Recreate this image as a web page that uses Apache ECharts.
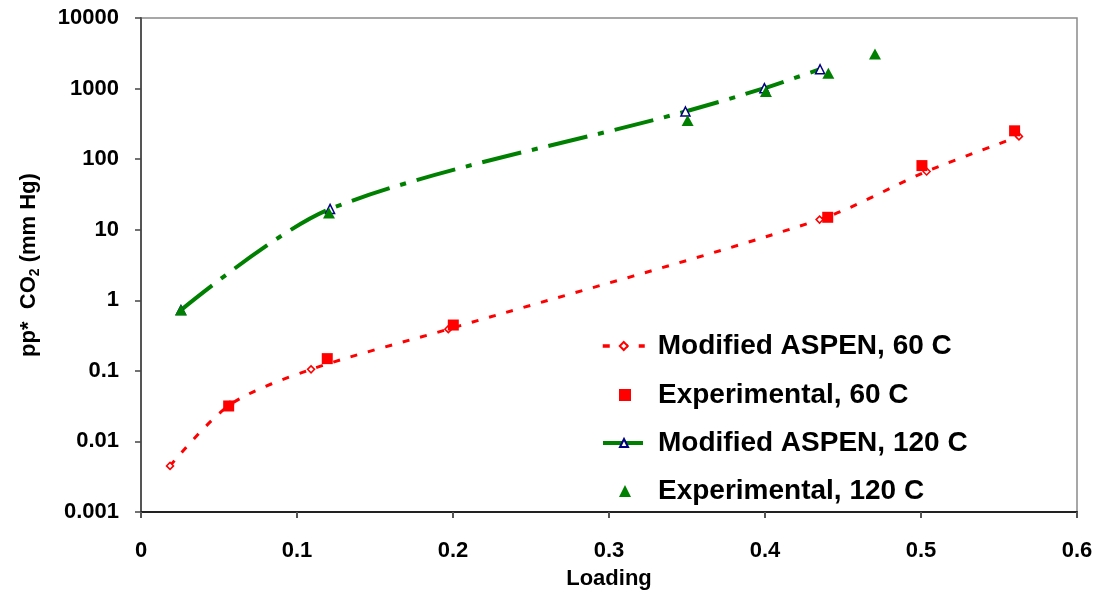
<!DOCTYPE html>
<html>
<head>
<meta charset="utf-8">
<script src="https://cdn.jsdelivr.net/npm/echarts@6/dist/echarts.min.js"></script>
<style>html,body{margin:0;padding:0;background:#fff;}#c{width:1097px;height:595px;}</style>
</head>
<body>
<div id="c"></div>
<script>
// Data
const aspen60X = [0.0186, 0.057, 0.109, 0.197, 0.435, 0.5036, 0.5628];
const aspen60Y = [0.0045, 0.033, 0.105, 0.39, 13.9, 67, 210];
const exp60X = [0.0562, 0.1194, 0.2002, 0.4402, 0.5006, 0.560];
const exp60Y = [0.0318, 0.149, 0.446, 15.0, 81, 252];
const aspen120X = [0.0256, 0.1212, 0.349, 0.3996, 0.4353];
const aspen120Y = [0.726, 19.7, 473, 1014, 1880];
const exp120X = [0.0256, 0.1205, 0.3504, 0.4006, 0.4406, 0.4705];
const exp120Y = [0.726, 17.3, 353, 908, 1652, 3100];
const seriesNames = ['Modified ASPEN, 60 C', 'Experimental, 60 C', 'Modified ASPEN, 120 C', 'Experimental, 120 C'];
const xTickLabels = ['0', '0.1', '0.2', '0.3', '0.4', '0.5', '0.6'];
const yTickLabels = ['0.001', '0.01', '0.1', '1', '10', '100', '1000', '10000'];

const pair = (xs, ys) => xs.map((x, i) => [x, ys[i]]);
const FONT = '"Liberation Sans", Arial, sans-serif';

const legendText = (padLeft) => ({fontFamily: FONT, fontWeight: 'bold', fontSize: 28, color: '#000', lineHeight: 28, padding: [0, 0, 0, padLeft]});
const legendTops = [332, 381, 429, 477];
const legends = seriesNames.map((name, i) => {
  const isLine = (i % 2 === 0);
  const item = {name: name};
  if (isLine) {
    item.lineStyle = {width: i === 0 ? 3.5 : 4};
  }
  return {
    orient: 'vertical', padding: 0,
    left: isLine ? 601 : 619, top: legendTops[i],
    itemWidth: isLine ? 42 : 12, itemHeight: isLine ? 10 : 12,
    textStyle: legendText(isLine ? 8 : 22),
    selectedMode: false,
    data: [item]
  };
});

const chart = echarts.init(document.getElementById('c'), null, {renderer: 'canvas'});
chart.setOption({
  animation: false,
  backgroundColor: '#ffffff',
  grid: {left: 141, right: 20, top: 18, bottom: 82, show: true, borderColor: '#8a8a8a', borderWidth: 1.5, backgroundColor: 'transparent'},
  xAxis: {
    type: 'value', min: 0, max: 0.6, interval: 0.1,
    name: 'Loading', nameLocation: 'middle', nameGap: 56,
    nameTextStyle: {fontFamily: FONT, fontWeight: 'bold', fontSize: 22, color: '#000'},
    axisLine: {lineStyle: {color: '#222', width: 2}},
    axisTick: {show: true, inside: false, length: 6, lineStyle: {color: '#555', width: 2}},
    axisLabel: {margin: 28, fontFamily: FONT, fontWeight: 'bold', fontSize: 22, color: '#000',
      formatter: v => xTickLabels[Math.round(v * 10)]},
    splitLine: {show: false}
  },
  yAxis: {
    type: 'log', logBase: 10, min: 0.001, max: 10000,
    name: '{a|pp*  CO}{b|2}{a| (mm Hg)}', nameLocation: 'middle', nameGap: 99, nameRotate: 90,
    nameTextStyle: {
      rich: {
        a: {fontFamily: FONT, fontWeight: 'bold', fontSize: 22, color: '#000', lineHeight: 26},
        b: {fontFamily: FONT, fontWeight: 'bold', fontSize: 14, color: '#000', lineHeight: 14, verticalAlign: 'bottom'}
      }
    },
    axisLine: {show: true, lineStyle: {color: '#555', width: 2}},
    axisTick: {show: true, inside: false, length: 6, lineStyle: {color: '#444', width: 1.5}},
    axisLabel: {margin: 22, fontFamily: FONT, fontWeight: 'bold', fontSize: 22, color: '#000',
      formatter: v => yTickLabels[Math.round(Math.log10(v)) + 3]},
    splitLine: {show: false},
    minorTick: {show: false}
  },
  legend: legends,
  series: [
    {
      name: seriesNames[0], type: 'line', data: pair(aspen60X, aspen60Y), smooth: 0.3,
      symbol: 'diamond', symbolSize: 7, showAllSymbol: true,
      lineStyle: {color: '#ff0000', width: 3, type: [7, 11]},
      itemStyle: {color: '#ffffff', borderColor: '#ff0000', borderWidth: 1.5},
      z: 2
    },
    {
      name: seriesNames[1], type: 'scatter', data: pair(exp60X, exp60Y),
      symbol: 'rect', symbolSize: 11,
      itemStyle: {color: '#ff0000', opacity: 1},
      z: 3
    },
    {
      name: seriesNames[2], type: 'line', data: pair(aspen120X, aspen120Y), smooth: 0.3,
      symbol: 'triangle', symbolSize: 9, showAllSymbol: true,
      lineStyle: {color: '#008000', width: 4, type: [40, 11, 6, 11]},
      itemStyle: {color: '#ffffff', borderColor: '#000080', borderWidth: 1.5},
      z: 4
    },
    {
      name: seriesNames[3], type: 'scatter', data: pair(exp120X, exp120Y),
      symbol: 'triangle', symbolSize: [12, 11],
      itemStyle: {color: '#008000', opacity: 1},
      z: 5
    }
  ]
});
</script>
</body>
</html>
